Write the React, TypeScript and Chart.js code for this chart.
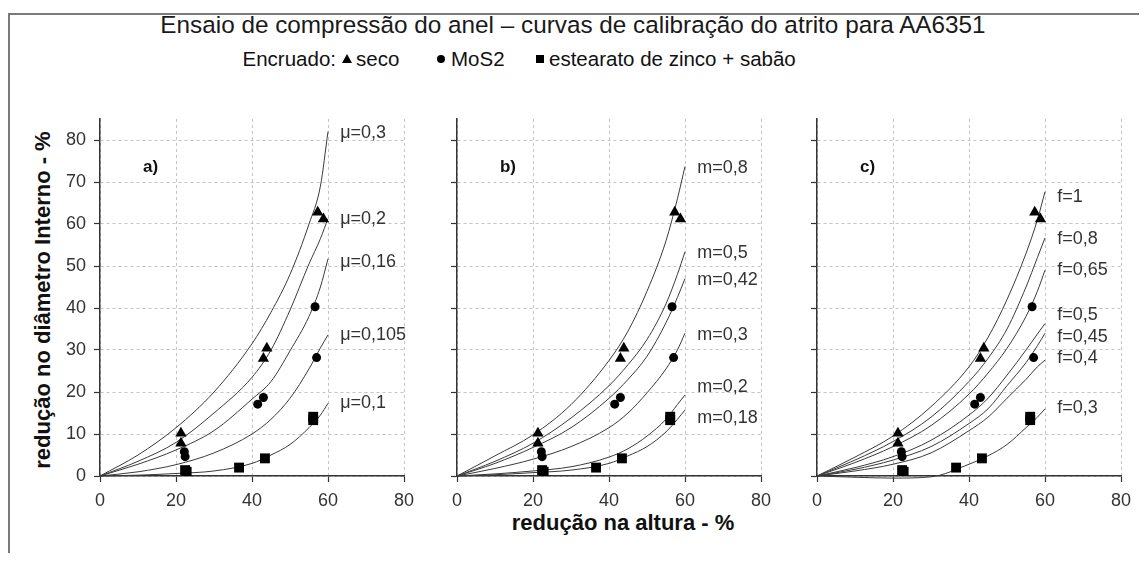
import React, { useEffect, useRef } from "react";
import { Chart, registerables } from "chart.js";
Chart.register(...registerables);

const FONT = '"Liberation Sans", Arial, sans-serif';

// ---------- data ----------
const X_TICKS = [0, 20, 40, 60, 80];
const CURVE_X = [0, 10, 20, 30, 40, 45, 50, 55, 58, 60];

// panel a) Coulomb friction (mu)
const MU_030 = [0, 5, 11.5, 20, 31.5, 39, 48, 60, 69, 82];
const MU_020 = [0, 3.5, 8, 15, 23.5, 30, 39.5, 50.5, 56.5, 61.3];
const MU_016 = [0, 2.8, 6.2, 10.8, 18.3, 22.5, 29.8, 38, 45, 51.7];
const MU_0105 = [0, 1, 2.7, 5.5, 10, 13.5, 18.5, 25.5, 30.5, 33.6];
const MU_010 = [0, 0.2, 0.6, 1.2, 3, 5, 7.5, 11.5, 14.5, 17.3];
const MU_LABELS = ["μ=0,3", "μ=0,2", "μ=0,16", "μ=0,105", "μ=0,1"];
const MU_LABEL_Y = [81.6, 61.3, 51, 33.6, 17.3];

// panel b) friction factor (m)
const M_08 = [0, 4.8, 9.8, 17, 27.5, 34.5, 44, 56, 66, 73.7];
const M_05 = [0, 3.5, 7.8, 13.8, 21.5, 26.5, 32.5, 41, 48, 53.4];
const M_042 = [0, 3, 6.8, 11.5, 18.5, 23, 28.5, 36.5, 42.5, 47];
const M_03 = [0, 1.8, 4, 7, 11.5, 15, 19.8, 25.5, 30, 34];
const M_02 = [0, 0.5, 1.2, 2.2, 4.5, 6.5, 9.5, 13.5, 17, 19.3];
const M_018 = [0, 0.3, 0.8, 1.4, 3, 4.8, 7, 10.5, 13.5, 15.7];
const M_LABELS = ["m=0,8", "m=0,5", "m=0,42", "m=0,3", "m=0,2", "m=0,18"];
const M_LABEL_Y = [73.3, 53, 46.7, 33.6, 21.3, 13.7];

// panel c) f
const F_1 = [0, 4.5, 9.5, 16.5, 26, 33, 42, 53, 61, 67.7];
const F_08 = [0, 3.8, 8.2, 14, 22.5, 28, 35, 45, 52, 56.7];
const F_065 = [0, 3.2, 7, 12, 19.5, 24.5, 30.4, 38, 44, 49];
const F_05 = [0, 2, 4.6, 8.5, 14.5, 18.5, 24, 30, 33.8, 36.3];
const F_045 = [0, 1.6, 3.8, 7, 12.5, 16, 21.5, 27, 31, 34];
const F_04 = [0, 1.2, 2.8, 5.5, 10.8, 14, 18.5, 23, 26, 27.6];
const F_03 = [0, -0.3, -0.5, -0.2, 2.8, 4.8, 7.5, 11.5, 14, 16];
const F_LABELS = ["f=1", "f=0,8", "f=0,65", "f=0,5", "f=0,45", "f=0,4", "f=0,3"];
const F_LABEL_Y = [66.5, 56.4, 49, 38.3, 33.2, 28, 16.1];

// experimental points (Encruado)
const SECO_X = [21.3, 21.3, 43, 43.9, 57.3, 58.8];
const SECO_Y = [10.2, 7.8, 28, 30.4, 62.8, 61.2];
const MOS2_X = [22.2, 22.4, 41.5, 43, 56.6, 57];
const MOS2_Y = [5.8, 4.6, 17.1, 18.7, 40.3, 28.2];
const ESTEARATO_X = [22.4, 22.8, 36.6, 43.4, 56.1, 56.1];
const ESTEARATO_Y = [1.4, 1, 2, 4.2, 13.3, 14.1];

const LABEL_X = 63.2;

// ---------- layout ----------
const AREA_W = 304;
const AREA_TOP = 119;
const AREA_BOTTOM = 476;
const Y_AXIS_W = 60;
const PAD_RIGHT = 25;
const CANVAS_TOP = 100;
const X_AXIS_H = 50;
const CANVAS_W = Y_AXIS_W + AREA_W + PAD_RIGHT;
const CANVAS_H = AREA_BOTTOM - CANVAS_TOP + X_AXIS_H;

const xy = (xs: number[], ys: number[]) => xs.map((x, i) => ({ x, y: ys[i] }));

const labelPlugin = {
  id: "curveLabels",
  afterDatasetsDraw(chart: any, _args: any, opts: any) {
    const { ctx, scales } = chart;
    const xs = scales.x;
    const ys = scales.y;
    ctx.save();
    ctx.font = `18px ${FONT}`;
    ctx.fillStyle = "#333";
    ctx.textBaseline = "middle";
    ctx.textAlign = "left";
    (opts.labels as string[]).forEach((t, i) => {
      ctx.fillText(t, xs.getPixelForValue(LABEL_X), ys.getPixelForValue(opts.ys[i]));
    });
    ctx.font = `bold 17px ${FONT}`;
    ctx.fillStyle = "#111";
    ctx.fillText(opts.letter, xs.getPixelForValue(11.3), ys.getPixelForValue(73.6));
    ctx.restore();
  },
};

type PanelProps = {
  left: number;
  curves: number[][];
  labels: string[];
  labelY: number[];
  letter: string;
  showY: boolean;
};

function Panel({ left, curves, labels, labelY, letter, showY }: PanelProps) {
  const ref = useRef<HTMLCanvasElement>(null);
  useEffect(() => {
    if (!ref.current) return;
    const markerBase = {
      showLine: false,
      backgroundColor: "#000",
      borderColor: "#000",
      borderWidth: 0,
      order: 0,
    };
    const datasets: any[] = [
      { ...markerBase, data: xy(SECO_X, SECO_Y), pointStyle: "triangle", pointRadius: 6.5 },
      { ...markerBase, data: xy(MOS2_X, MOS2_Y), pointStyle: "circle", pointRadius: 4.5 },
      { ...markerBase, data: xy(ESTEARATO_X, ESTEARATO_Y), pointStyle: "rect", pointRadius: 7 },
      ...curves.map((c) => ({
        data: xy(CURVE_X, c),
        showLine: true,
        pointRadius: 0,
        borderColor: "#3a3a3a",
        borderWidth: 1,
        cubicInterpolationMode: "monotone",
        order: 1,
        clip: 4,
      })),
    ];
    const tickFont = { family: FONT, size: 18 };
    const chart = new Chart(ref.current, {
      type: "scatter",
      data: { datasets },
      options: {
        animation: false,
        responsive: false,
        events: [],
        layout: { padding: { top: AREA_TOP - CANVAS_TOP, right: PAD_RIGHT, left: 0, bottom: 0 } },
        plugins: {
          legend: { display: false },
          tooltip: { enabled: false },
          curveLabels: { labels, ys: labelY, letter },
        } as any,
        scales: {
          x: {
            type: "linear",
            min: 0,
            max: 80,
            afterBuildTicks: (s: any) => {
              s.ticks = X_TICKS.map((v) => ({ value: v }));
            },
            ticks: { stepSize: 20, color: "#333", font: tickFont, padding: 8, maxRotation: 0 },
            grid: { color: "#c4c4c4", lineWidth: 1, tickLength: 6, tickColor: "#333", tickWidth: 1.2, tickBorderDash: [] },
            border: { display: true, color: "#333", width: 1.5, dash: [3, 3] },
            afterFit: (s: any) => {
              s.height = X_AXIS_H;
            },
          },
          y: {
            type: "linear",
            min: 0,
            max: 85,
            afterBuildTicks: (s: any) => {
              s.ticks = s.ticks.filter((t: any) => t.value <= 80);
            },
            ticks: { stepSize: 10, display: showY, color: "#333", font: tickFont, padding: 8 },
            grid: { color: "#c4c4c4", lineWidth: 1, tickLength: 6, tickColor: "#333", tickWidth: 1.2, tickBorderDash: [] },
            border: { display: true, color: "#333", width: 1.5, dash: [3, 3] },
            afterFit: (s: any) => {
              s.width = Y_AXIS_W;
            },
          },
        },
      } as any,
      plugins: [labelPlugin as any],
    });
    return () => chart.destroy();
  }, []);
  return (
    <canvas
      ref={ref}
      width={CANVAS_W}
      height={CANVAS_H}
      style={{ position: "absolute", left: left - Y_AXIS_W - 8, top: CANVAS_TOP - 8, width: CANVAS_W, height: CANVAS_H }}
    />
  );
}

function Txt({ x, y, children, style, right }: { x: number; y: number; children: any; style?: any; right?: boolean }) {
  return (
    <div
      style={{
        position: "absolute",
        left: x - 8,
        top: y - 8,
        transform: right ? "translate(-100%,-50%)" : "translate(0,-50%)",
        whiteSpace: "nowrap",
        lineHeight: 1,
        ...style,
      }}
    >
      {children}
    </div>
  );
}

export default function App() {
  useEffect(() => {
    document.documentElement.style.overflow = "hidden";
  }, []);
  const legendFont = { fontSize: 20.5, color: "#111" };
  return (
    <div style={{ position: "relative", width: 1139, height: 545, fontFamily: FONT }}>
      <div
        style={{
          position: "absolute",
          left: 0,
          top: 5,
          width: 1139,
          height: 540,
          boxSizing: "border-box",
          borderTop: "2px solid #7a7a7a",
          borderLeft: "2px solid #7a7a7a",
        }}
      />
      <div
        style={{
          position: "absolute",
          left: 573 - 8,
          top: 25 - 8,
          transform: "translate(-50%,-50%)",
          whiteSpace: "nowrap",
          fontSize: 24.3,
          color: "#1a1a1a",
          lineHeight: 1,
        }}
      >
        Ensaio de compressão do anel – curvas de calibração do atrito para AA6351
      </div>

      <Txt x={336} y={59} style={legendFont} right>Encruado:</Txt>
      <div style={{ position: "absolute", left: 342 - 8, top: 54 - 8, width: 0, height: 0, borderLeft: "5px solid transparent", borderRight: "5px solid transparent", borderBottom: "9px solid #000" }} />
      <Txt x={356} y={59} style={legendFont}>seco</Txt>
      <div style={{ position: "absolute", left: 437 - 8, top: 55 - 8, width: 8, height: 8, borderRadius: "50%", background: "#000" }} />
      <Txt x={451} y={59} style={legendFont}>MoS2</Txt>
      <div style={{ position: "absolute", left: 536 - 8, top: 55 - 8, width: 8, height: 8, background: "#000" }} />
      <Txt x={549} y={59} style={legendFont}>estearato de zinco + sabão</Txt>

      <div
        style={{
          position: "absolute",
          left: 43 - 8,
          top: 300 - 8,
          transform: "translate(-50%,-50%) rotate(-90deg)",
          whiteSpace: "nowrap",
          fontSize: 22,
          fontWeight: "bold",
          color: "#111",
          lineHeight: 1,
        }}
      >
        redução no diâmetro Interno - %
      </div>
      <div
        style={{
          position: "absolute",
          left: 623 - 8,
          top: 523 - 8,
          transform: "translate(-50%,-50%)",
          whiteSpace: "nowrap",
          fontSize: 22,
          fontWeight: "bold",
          color: "#111",
          lineHeight: 1,
        }}
      >
        redução na altura - %
      </div>

      <Panel left={100} curves={[MU_030, MU_020, MU_016, MU_0105, MU_010]} labels={MU_LABELS} labelY={MU_LABEL_Y} letter="a)" showY={true} />
      <Panel left={457} curves={[M_08, M_05, M_042, M_03, M_02, M_018]} labels={M_LABELS} labelY={M_LABEL_Y} letter="b)" showY={false} />
      <Panel left={817} curves={[F_1, F_08, F_065, F_05, F_045, F_04, F_03]} labels={F_LABELS} labelY={F_LABEL_Y} letter="c)" showY={false} />
    </div>
  );
}
